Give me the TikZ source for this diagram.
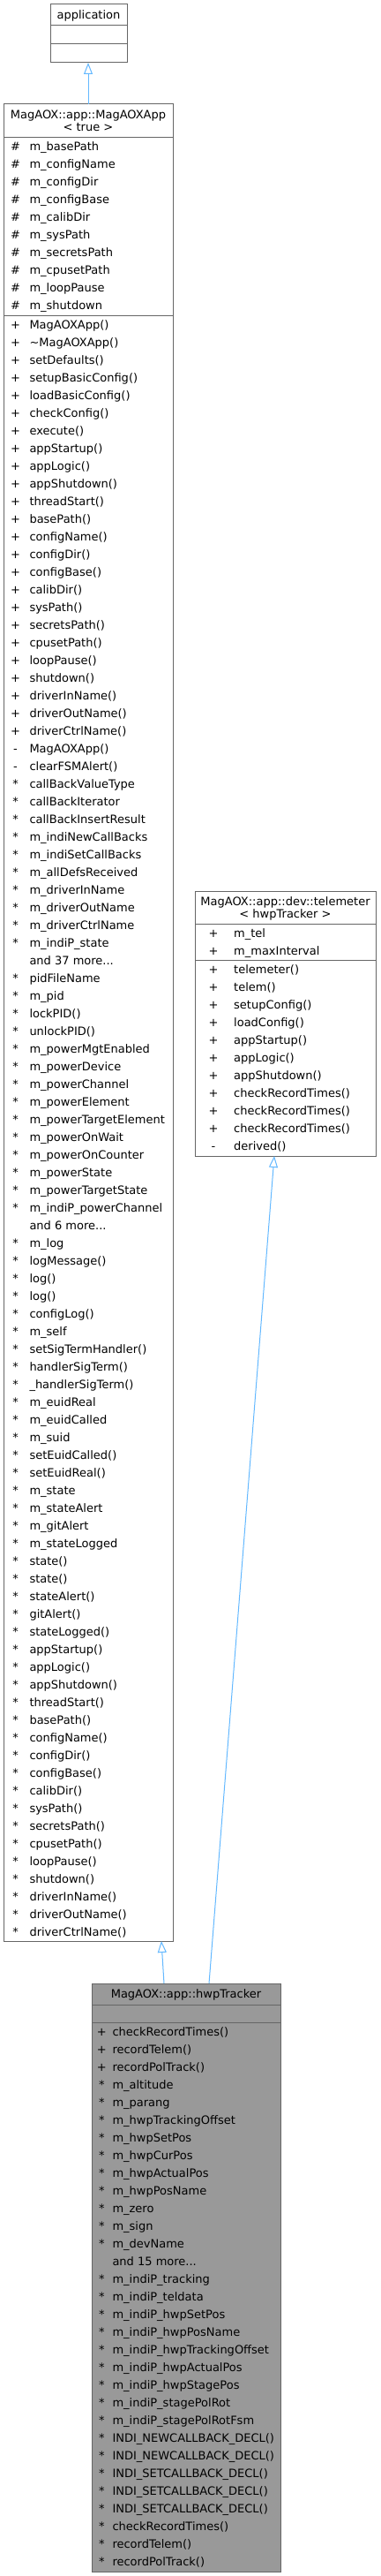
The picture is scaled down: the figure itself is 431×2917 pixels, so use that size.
\documentclass[tikz,border=0pt]{standalone}
\usepackage{fontspec}
\setmainfont{DejaVu Sans}
\usetikzlibrary{arrows.meta,calc}
\definecolor{boxline}{HTML}{666666}
\definecolor{inhblue}{HTML}{63B8FF}
\definecolor{hwpfill}{HTML}{999999}
\newcommand\rowfont{\fontsize{13}{15}\selectfont}
\newcommand\moredots{...}
\tikzset{
 cls/.style={draw=boxline, line width=1pt, fill=white, inner sep=0pt, outer sep=0pt, anchor=north west},
 div/.style={draw=boxline, line width=1pt},
 symtext/.style={anchor=base, inner sep=0pt, font=\rowfont},
 memtext/.style={anchor=base west, inner sep=0pt, font=\rowfont},
 ttext/.style={anchor=base, inner sep=0pt, font=\rowfont},
 inh/.style={draw=inhblue, line width=1pt, -{Triangle[length=13pt,width=10pt,fill=white]}},
}
\newcommand\classrows[5]{%
  \foreach \s/\t [count=\i] in {#5} {
    \node[symtext] (#4s\i) at (#1, {#3 + 20*\i - 5.5}) {\s};
    \node[memtext] (#4n\i) at (#2, {#3 + 20*\i - 5.5}) {\t};
  }}
\begin{document}
\begin{tikzpicture}[x=1pt,y=-1pt]
\useasboundingbox (0,0) rectangle (431,2917);

% ---------- application ----------
\node[cls, minimum width=87, minimum height=66] (app) at (57,5) {};
\draw[div] ($(app.north west)+(0,24)$) -- ($(app.north east)+(0,24)$);
\draw[div] ($(app.north west)+(0,44.5)$) -- ($(app.north east)+(0,44.5)$);
\node[ttext] (apptitle) at (100.5,21.5) {application};

% ---------- MagAOXApp ----------
\node[cls, minimum width=192, minimum height=2080] (mag) at (4,118) {};
\draw[div] ($(mag.north west)+(0,37)$) -- ($(mag.north east)+(0,37)$);
\draw[div] ($(mag.north west)+(0,239)$) -- ($(mag.north east)+(0,239)$);
\node[ttext] (magtitleA) at (100,134.5) {MagAOX::app::MagAOXApp};
\node[ttext] (magtitleB) at (100,148.5) {< true >};
\classrows{17.5}{33.3}{156}{ma}{
 \#/m\_basePath, \#/m\_configName, \#/m\_configDir, \#/m\_configBase, \#/m\_calibDir,
 \#/m\_sysPath, \#/m\_secretsPath, \#/m\_cpusetPath, \#/m\_loopPause, \#/m\_shutdown}
\classrows{17.5}{33.3}{358}{mm}{
 +/MagAOXApp(), +/\textasciitilde MagAOXApp(), +/setDefaults(), +/setupBasicConfig(),
 +/loadBasicConfig(), +/checkConfig(), +/execute(), +/appStartup(), +/appLogic(),
 +/appShutdown(), +/threadStart(), +/basePath(), +/configName(), +/configDir(),
 +/configBase(), +/calibDir(), +/sysPath(), +/secretsPath(), +/cpusetPath(),
 +/loopPause(), +/shutdown(), +/driverInName(), +/driverOutName(), +/driverCtrlName(),
 -/MagAOXApp(), -/clearFSMAlert(),
 */callBackValueType, */callBackIterator, */callBackInsertResult, */m\_indiNewCallBacks,
 */m\_indiSetCallBacks, */m\_allDefsReceived, */m\_driverInName, */m\_driverOutName,
 */m\_driverCtrlName, */m\_indiP\_state, {}/and 37 more\moredots, */pidFileName, */m\_pid,
 */lockPID(), */unlockPID(), */m\_powerMgtEnabled, */m\_powerDevice, */m\_powerChannel,
 */m\_powerElement, */m\_powerTargetElement, */m\_powerOnWait, */m\_powerOnCounter,
 */m\_powerState, */m\_powerTargetState, */m\_indiP\_powerChannel, {}/and 6 more\moredots,
 */m\_log, */logMessage(), */log(), */log(), */configLog(), */m\_self,
 */setSigTermHandler(), */handlerSigTerm(), */\_handlerSigTerm(), */m\_euidReal,
 */m\_euidCalled, */m\_suid, */setEuidCalled(), */setEuidReal(), */m\_state,
 */m\_stateAlert, */m\_gitAlert, */m\_stateLogged, */state(), */state(), */stateAlert(),
 */gitAlert(), */stateLogged(), */appStartup(), */appLogic(), */appShutdown(),
 */threadStart(), */basePath(), */configName(), */configDir(), */configBase(),
 */calibDir(), */sysPath(), */secretsPath(), */cpusetPath(), */loopPause(),
 */shutdown(), */driverInName(), */driverOutName(), */driverCtrlName()}

% ---------- telemeter ----------
\node[cls, minimum width=205, minimum height=300] (tel) at (221,1009) {};
\draw[div] ($(tel.north west)+(0,37)$) -- ($(tel.north east)+(0,37)$);
\draw[div] ($(tel.north west)+(0,78)$) -- ($(tel.north east)+(0,78)$);
\node[ttext] (teltitleA) at (323.5,1025.5) {MagAOX::app::dev::telemeter};
\node[ttext] (teltitleB) at (323.5,1039.5) {< hwpTracker >};
\classrows{242}{265}{1047}{ta}{+/m\_tel, +/m\_maxInterval}
\classrows{242}{265}{1088}{tm}{
 +/telemeter(), +/telem(), +/setupConfig(), +/loadConfig(), +/appStartup(),
 +/appLogic(), +/appShutdown(), +/checkRecordTimes(), +/checkRecordTimes(),
 +/checkRecordTimes(), -/derived()}

% ---------- hwpTracker ----------
\node[cls, fill=hwpfill, minimum width=214, minimum height=666] (hwp) at (104,2246) {};
\draw[div] ($(hwp.north west)+(0,24)$) -- ($(hwp.north east)+(0,24)$);
\draw[div] ($(hwp.north west)+(0,44)$) -- ($(hwp.north east)+(0,44)$);
\node[ttext] (hwptitle) at (211,2262.5) {MagAOX::app::hwpTracker};
\classrows{115.3}{127.3}{2291}{hm}{
 +/checkRecordTimes(), +/recordTelem(), +/recordPolTrack(), */m\_altitude, */m\_parang,
 */m\_hwpTrackingOffset, */m\_hwpSetPos, */m\_hwpCurPos, */m\_hwpActualPos,
 */m\_hwpPosName, */m\_zero, */m\_sign, */m\_devName, {}/and 15 more\moredots,
 */m\_indiP\_tracking, */m\_indiP\_teldata, */m\_indiP\_hwpSetPos, */m\_indiP\_hwpPosName,
 */m\_indiP\_hwpTrackingOffset, */m\_indiP\_hwpActualPos, */m\_indiP\_hwpStagePos,
 */m\_indiP\_stagePolRot, */m\_indiP\_stagePolRotFsm, */INDI\_NEWCALLBACK\_DECL(),
 */INDI\_NEWCALLBACK\_DECL(), */INDI\_SETCALLBACK\_DECL(), */INDI\_SETCALLBACK\_DECL(),
 */INDI\_SETCALLBACK\_DECL(), */checkRecordTimes(), */recordTelem(), */recordPolTrack()}

% ---------- inheritance ----------
\draw[inh] ($(mag.north west)+(96,0)$) -- ($(app.south west)+(43,0)$);
\draw[inh] ($(hwp.north west)+(82,0)$) -- ($(mag.south west)+(179,0)$);
\draw[inh] ($(hwp.north west)+(133,0)$) -- ($(tel.south west)+(90,0)$);
\end{tikzpicture}
\end{document}
